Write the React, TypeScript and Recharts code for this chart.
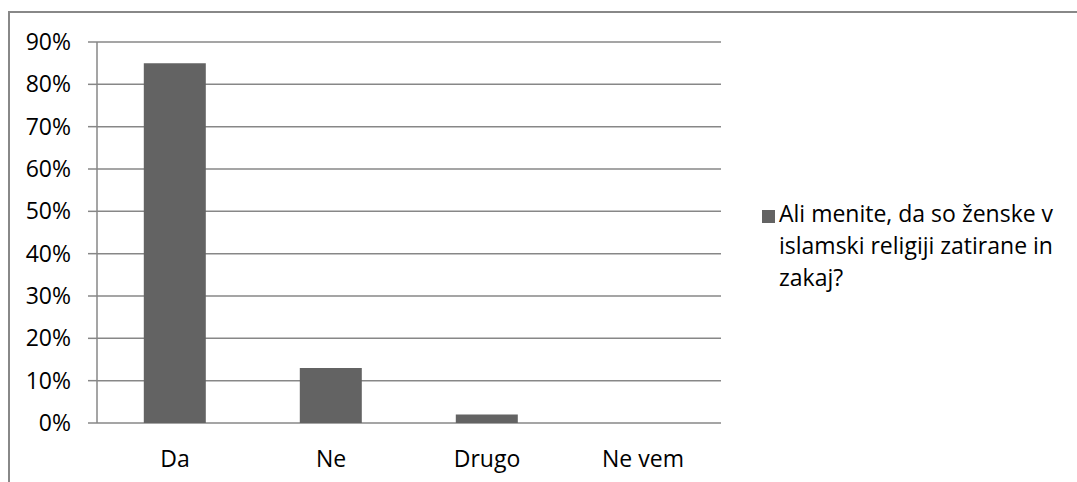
import React from "react";
import { BarChart, Bar, XAxis, YAxis, CartesianGrid, Legend } from "recharts";

const categories = ["Da", "Ne", "Drugo", "Ne vem"];
const shares = [85, 13, 2, 0];
const yTicks = [0, 10, 20, 30, 40, 50, 60, 70, 80, 90];
const boundaryTicks = [0, 1, 2, 3, 4];
const seriesLines = ["Ali menite, da so ženske v", "islamski religiji zatirane in", "zakaj?"];

const data = categories.map((name, i) => ({ name, value: shares[i] }));

const GRID = "#878787";
const BAR = "#636363";
const FONT = "'Open Sans', Lato, sans-serif";
const FS = 23;

function LegendBox() {
  return (
    <div style={{ position: "relative", fontFamily: FONT, fontSize: FS, color: "#000", lineHeight: "32px" }}>
      <div style={{ position: "absolute", left: 0, top: 13, width: 13, height: 13, background: BAR }} />
      <div style={{ paddingLeft: 17, whiteSpace: "nowrap" }}>
        {seriesLines.map((l) => (
          <div key={l}>{l}</div>
        ))}
      </div>
    </div>
  );
}

export default function App() {
  return (
    <div style={{ position: "absolute", left: 0, top: 0, width: 1077, height: 482, overflow: "hidden", background: "#fff" }}>
      <div
        style={{
          position: "absolute",
          left: 8,
          top: 11,
          width: 1090,
          height: 490,
          border: "2px solid #888",
          boxSizing: "border-box",
        }}
      />
      <BarChart
        width={1077}
        height={482}
        data={data}
        margin={{ top: 42, right: 42, left: 0, bottom: 19 }}
        barCategoryGap="30%"
        style={{ position: "absolute", left: 0, top: 0 }}
      >
        <CartesianGrid horizontal vertical={false} stroke={GRID} strokeWidth={1.5} />
        <XAxis xAxisId="edges" type="number" domain={[0, 4]} ticks={boundaryTicks} height={0}
          axisLine={{ stroke: GRID, strokeWidth: 1.5 }} tickLine={{ stroke: GRID, strokeWidth: 1.5 }}
          tickSize={9} tickFormatter={() => ""} allowDataOverflow />
        <XAxis xAxisId="cat" dataKey="name" height={40} axisLine={false} tickLine={false} tickSize={0}
          tickMargin={28} tick={{ fill: "#000", fontSize: FS, fontFamily: FONT }} interval={0} />
        <YAxis width={97} domain={[0, 90]} ticks={yTicks} tickFormatter={(v) => `${v}%`}
          axisLine={{ stroke: GRID, strokeWidth: 1.5 }} tickLine={{ stroke: GRID, strokeWidth: 1.5 }}
          tickSize={9} tickMargin={17} tick={{ fill: "#000", fontSize: FS, fontFamily: FONT }} />
        <Legend layout="vertical" align="right" verticalAlign="middle" content={<LegendBox />}
          wrapperStyle={{ left: 762, top: 197, width: 314 }} />
        <Bar xAxisId="cat" dataKey="value" fill={BAR} isAnimationActive={false} />
      </BarChart>
    </div>
  );
}
